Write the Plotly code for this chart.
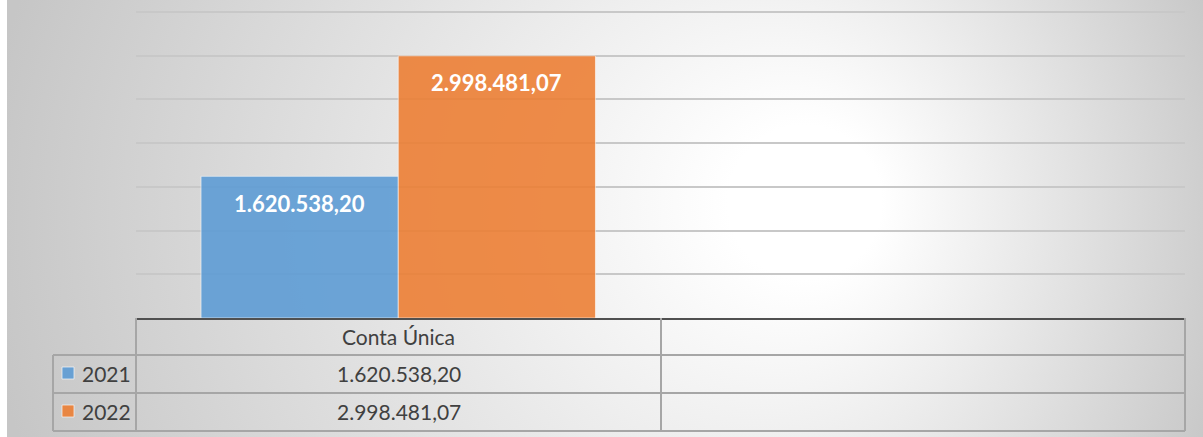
import base64
import plotly.graph_objects as go

# ---- data ----
categories = ["Conta Única"]
series_names = ["2021", "2022"]
values_2021 = [1620538.20]
values_2022 = [2998481.07]
series_values = [values_2021, values_2022]
series_colors = ["#5B9BD5", "#ED7D31"]
y_max = 3500000
y_step = 500000


def fmt_br(v):
    s = f"{v:,.2f}"
    return s.replace(",", "X").replace(".", ",").replace("X", ".")


W, H = 1203, 437
ML, MR, MT, MB = 136, 18, 10, 119
PW, PH = W - ML - MR, H - MT - MB
PH_DATA = H - 12 - MB  # pixel height covering 0..y_max


def px(xp):
    return (xp - ML) / PW


def py(yp):
    return (H - MB - yp) / PH


FONT = "Lato"
TXT = "#404040"
bargap = 0.248

fig = go.Figure()
for name, vals, col in zip(series_names, series_values, series_colors):
    fig.add_trace(go.Bar(
        name=name, x=categories, y=vals,
        marker=dict(color=col, opacity=0.88,
                    line=dict(color="rgba(255,255,255,0.6)", width=1)),
        hoverinfo="skip",
    ))

# background radial gradient (SVG data URI)
svg = f'''<svg xmlns="http://www.w3.org/2000/svg" width="{W-7}" height="{H}" viewBox="0 0 {W-7} {H}" preserveAspectRatio="none">
<defs><radialGradient id="g" gradientUnits="userSpaceOnUse" cx="613" cy="220" r="640" fx="823" fy="200">
<stop offset="0" stop-color="#ffffff"/><stop offset="0.12" stop-color="#ffffff"/>
<stop offset="1" stop-color="#c6c6c6"/></radialGradient></defs>
<rect x="0" y="0" width="{W-7}" height="{H}" fill="url(#g)"/></svg>'''
src = "data:image/svg+xml;base64," + base64.b64encode(svg.encode()).decode()

images = [dict(source=src, xref="paper", yref="paper", x=px(7), y=py(0),
               sizex=(W - 7) / PW, sizey=H / PH, sizing="stretch",
               xanchor="left", yanchor="top", layer="below")]

shapes = []
annotations = []
line_col = "#a6a6a6"


def hline(x0, x1, y, col=line_col, w=2):
    shapes.append(dict(type="line", xref="paper", yref="paper",
                       x0=px(x0), x1=px(x1), y0=py(y), y1=py(y),
                       line=dict(color=col, width=w), layer="above"))


def vline(x, y0, y1, col=line_col, w=2):
    shapes.append(dict(type="line", xref="paper", yref="paper",
                       x0=px(x), x1=px(x), y0=py(y0), y1=py(y1),
                       line=dict(color=col, width=w), layer="above"))


def text(t, x, y, anchor="center", size=21, color=TXT):
    annotations.append(dict(text=t, xref="paper", yref="paper", x=px(x), y=py(y),
                            xanchor=anchor, yanchor="middle", showarrow=False,
                            font=dict(family=FONT, size=size, color=color)))


# table grid
row_tops = [318, 355, 393, 431]
col_mid = (136 + 661) / 2
hline(53, 1185, 355)
hline(53, 1185, 393)
hline(53, 1185, 431)
vline(136, 318, 431)
vline(53, 355, 431)
vline(661, 318, 431)
vline(1185, 318, 431)

text(categories[0], col_mid, (318 + 355) / 2)
for i, (name, vals, col) in enumerate(zip(series_names, series_values, series_colors)):
    yc = (row_tops[i + 1] + row_tops[i + 2]) / 2
    shapes.append(dict(type="rect", xref="paper", yref="paper",
                       x0=px(62), x1=px(74), y0=py(yc - 7), y1=py(yc + 5),
                       fillcolor=col, opacity=0.88,
                       line=dict(width=1, color="rgba(255,255,255,0.7)"), layer="above"))
    text(name, 80, yc - 1, anchor="left")
    text(fmt_br(vals[0]), col_mid, yc - 1)
    # bar data label
    bw = (1 - bargap) / 2
    off = -bw / 2 if i == 0 else bw / 2
    annotations.append(dict(text=f"<b>{fmt_br(vals[0])}</b>", xref="x", yref="y",
                            x=off, y=vals[0], yshift=-27, showarrow=False,
                            xanchor="center", yanchor="middle",
                            font=dict(family=FONT, size=22, color="white")))

fig.update_layout(
    width=W, height=H,
    margin=dict(l=ML, r=MR, t=MT, b=MB),
    paper_bgcolor="white", plot_bgcolor="rgba(0,0,0,0)",
    barmode="group", bargap=bargap, bargroupgap=0,
    showlegend=False,
    images=images, shapes=shapes, annotations=annotations,
    xaxis=dict(type="category", range=[-0.5, 1.5], showticklabels=False,
               showgrid=False, showline=True, linecolor="#505050", linewidth=2,
               zeroline=False, ticks=""),
    yaxis=dict(range=[0, y_max * PH / PH_DATA], dtick=y_step, showticklabels=False,
               showgrid=True, gridcolor="#c8c8c8", gridwidth=1.5,
               zeroline=False, showline=False, ticks=""),
)

fig.write_html("out.html", config={"displayModeBar": False},
               post_script="document.body.style.margin='0';document.body.style.overflow='hidden';")
